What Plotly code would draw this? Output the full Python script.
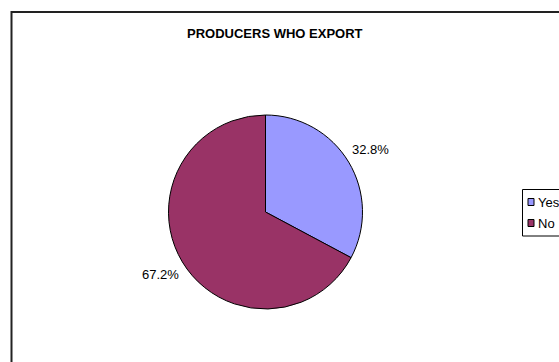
import math
import plotly.graph_objects as go

W, H = 559, 362

labels = ["Yes", "No"]
values = [32.8, 67.2]
colors = ["#9999FF", "#993366"]
title_text = "PRODUCERS WHO EXPORT"

# pie geometry in pixels
cx, cy, R = 265.5, 212.0, 97.0
label_r = 1.26 * R


def px(x):
    return x / W


def py(y):
    return 1 - y / H


fig = go.Figure()
fig.add_trace(go.Pie(
    labels=labels,
    values=values,
    sort=False,
    direction="clockwise",
    rotation=0,
    marker=dict(colors=colors, line=dict(color="#000000", width=1)),
    textinfo="none",
    hoverinfo="label+percent",
    showlegend=False,
    domain=dict(x=[px(cx - R), px(cx + R)], y=[py(cy + R), py(cy - R)]),
))

annotations = []
shapes = []

# percentage labels placed along each slice's mid-angle
total = sum(values)
start = 0.0
for v in values:
    frac = v / total
    mid = (start + frac / 2) * 2 * math.pi
    lx = cx + label_r * math.sin(mid)
    ly = cy - label_r * math.cos(mid)
    annotations.append(dict(
        x=px(lx), y=py(ly), xref="paper", yref="paper",
        text=f"{frac * 100:.1f}%", showarrow=False,
        font=dict(family="Liberation Sans, Arial", size=13, color="#000000"),
        xanchor="center", yanchor="middle",
    ))
    start += frac

# title
annotations.append(dict(
    x=px(274.5), y=py(33), xref="paper", yref="paper",
    text=f"<b>{title_text}</b>", showarrow=False,
    font=dict(family="Liberation Sans, Arial", size=13, color="#000000"),
    xanchor="center", yanchor="middle",
))

# chart frame
shapes.append(dict(
    type="rect", xref="paper", yref="paper",
    x0=px(11.5), y0=py(400), x1=px(600), y1=py(12),
    line=dict(color="#222222", width=2), fillcolor="rgba(0,0,0,0)",
))

# legend box
shapes.append(dict(
    type="rect", xref="paper", yref="paper",
    x0=px(522.5), y0=py(236), x1=px(600), y1=py(189.5),
    line=dict(color="#000000", width=1), fillcolor="#FFFFFF",
))
for i, (lab, col) in enumerate(zip(labels, colors)):
    yc = 202 + i * 21
    shapes.append(dict(
        type="rect", xref="paper", yref="paper",
        x0=px(528), y0=py(yc + 3.5), x1=px(534), y1=py(yc - 3.5),
        line=dict(color="#000000", width=1), fillcolor=col,
    ))
    annotations.append(dict(
        x=px(536), y=py(yc), xref="paper", yref="paper",
        text=lab, showarrow=False,
        font=dict(family="Liberation Sans, Arial", size=13, color="#000000"),
        xanchor="left", yanchor="middle",
    ))

fig.update_layout(
    width=W, height=H,
    margin=dict(l=0, r=0, t=0, b=0),
    paper_bgcolor="#FFFFFF",
    plot_bgcolor="#FFFFFF",
    annotations=annotations,
    shapes=shapes,
    showlegend=False,
)

fig.write_html("out.html")
